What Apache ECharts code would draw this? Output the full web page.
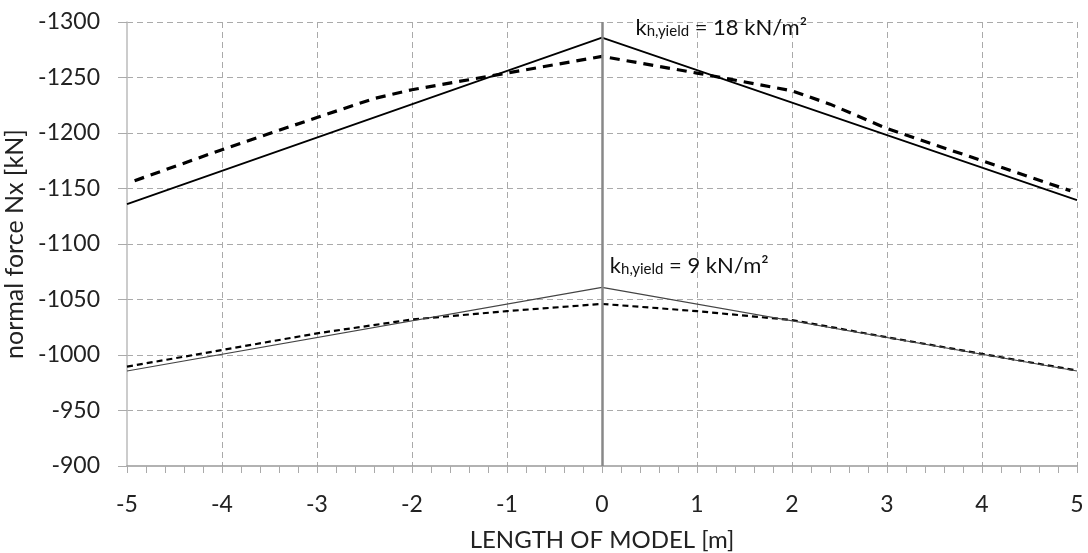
<!DOCTYPE html>
<html>
<head>
<meta charset="utf-8">
<script src="https://cdn.jsdelivr.net/npm/echarts@6/dist/echarts.min.js"></script>
<style>
  html, body { margin: 0; padding: 0; background: #fff; }
  #chart { width: 1088px; height: 553px; }
</style>
</head>
<body>
<div id="chart"></div>
<script>
// values, [x (m), Nx (kN)]
const solid18 = [[-5, -1136], [0, -1286], [5, -1139.5]];
const dashed18 = [
  [-4.92, -1157], [-4, -1185], [-3, -1214], [-2.4, -1231], [-2, -1239],
  [-1, -1254], [0, -1269], [1, -1254], [2, -1238], [2.4, -1226],
  [3, -1204], [4, -1175], [4.93, -1148]
];
const solid9 = [[-5, -985.6], [0, -1061], [5, -985.6]];
const dashed9 = [
  [-5, -989.5], [-4, -1004.5], [-3, -1019.5], [-2, -1032], [-1, -1039.5],
  [0, -1046], [1, -1039.5], [2, -1031.5], [3, -1016], [4, -1001], [5, -986]
];

const FONT = 'Lato';
const gridGrey = '#aaaaaa';

const chart = echarts.init(document.getElementById('chart'));

function kLabel(val) {
  return {
    show: true,
    position: 'right',
    formatter: '{k|k}{s|h,yield}{k| = ' + val + ' kN/m²}',
    rich: {
      k: { fontFamily: FONT, fontSize: 22, color: '#111', verticalAlign: 'bottom', lineHeight: 24 },
      s: { fontFamily: FONT, fontSize: 15, color: '#111', verticalAlign: 'bottom', lineHeight: 20 }
    }
  };
}

chart.setOption({
  animation: false,
  backgroundColor: '#fff',
  grid: { left: 127, right: 11, top: 22, bottom: 87, outerBoundsMode: 'none' },
  xAxis: {
    type: 'value',
    min: -5, max: 5, interval: 1,
    name: 'LENGTH OF MODEL [m]',
    nameLocation: 'middle',
    nameGap: 62,
    nameTextStyle: { fontFamily: FONT, fontSize: 24, color: '#222' },
    axisLine: { onZero: false, lineStyle: { color: '#999', width: 1.5 } },
    axisTick: { show: true, length: 7, lineStyle: { color: '#aaa', width: 1 } },
    minorTick: { show: true, splitNumber: 5, length: 7, lineStyle: { color: '#aaa', width: 1 } },
    axisLabel: { fontFamily: FONT, fontSize: 23, color: '#222', margin: 27 },
    splitLine: { show: true, showMinLine: false, lineStyle: { color: gridGrey, type: [6, 4], width: 1 } }
  },
  yAxis: {
    type: 'value',
    min: -1300, max: -900, interval: 50,
    inverse: true,
    name: 'normal force Nx [kN]',
    nameLocation: 'middle',
    nameGap: 90,
    nameTextStyle: { fontFamily: FONT, fontSize: 25, color: '#222' },
    axisLine: { show: true, onZero: false, lineStyle: { color: '#bbb', width: 1.5 } },
    axisTick: { show: true, length: 9, lineStyle: { color: gridGrey, width: 1 } },
    axisLabel: { fontFamily: FONT, fontSize: 23, color: '#222', margin: 27, formatter: v => String(v) },
    splitLine: { show: true, showMaxLine: false, lineStyle: { color: gridGrey, type: [6, 4], width: 1 } }
  },
  series: [
    {
      type: 'line', data: dashed18, symbol: 'none', z: 3,
      lineStyle: { color: '#000', width: 3.2, type: [10, 7] }
    },
    {
      type: 'line', data: solid18, symbol: 'none', z: 4,
      lineStyle: { color: '#000', width: 1.8 },
      markPoint: {
        symbol: 'circle', symbolSize: 0,
        data: [{ coord: [0.3, -1296], label: kLabel(18) }]
      }
    },
    {
      type: 'line', data: dashed9, symbol: 'none', z: 3,
      lineStyle: { color: '#000', width: 2.2, type: [6, 4] }
    },
    {
      type: 'line', data: solid9, symbol: 'none', z: 4,
      lineStyle: { color: '#444', width: 1.2 },
      markPoint: {
        symbol: 'circle', symbolSize: 0,
        data: [{ coord: [0.03, -1081], label: kLabel(9) }]
      },
      markLine: {
        silent: true, symbol: 'none', z: 5,
        label: { show: false },
        lineStyle: { color: '#888', width: 2.5, type: 'solid' },
        data: [{ xAxis: 0 }]
      }
    }
  ]
});
</script>
</body>
</html>
